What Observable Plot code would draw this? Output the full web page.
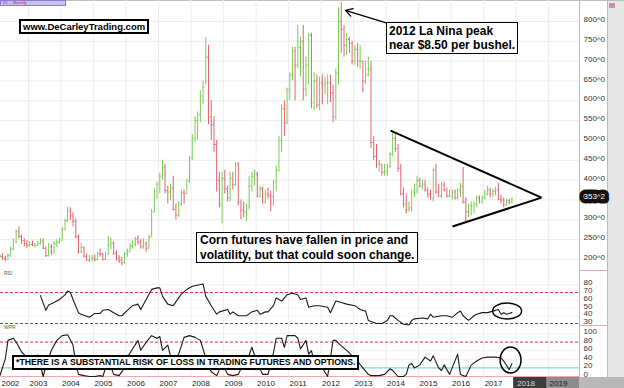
<!DOCTYPE html>
<html><head><meta charset="utf-8">
<script src="https://cdn.jsdelivr.net/npm/d3@7"></script>
<script src="https://cdn.jsdelivr.net/npm/@observablehq/plot@0.6"></script>
<style>
body{margin:0;background:#fff;font-family:"Liberation Sans",Arial,sans-serif;}
#chart{position:relative;width:624px;height:388px;overflow:hidden;background:#fff;}
.box{position:absolute;border:2px solid #000;background:#fff;font-weight:bold;color:#000;white-space:nowrap;box-sizing:border-box;}
.deco{position:absolute;}
</style></head><body><div id="chart"></div>
<script>
// ---------- DATA ----------
const firstYear = 2002; // monthly bars start Jan 2002
const highs = [
 215,212,215,208,215,232,252,275,282,262,252,248, // 2002
 245,246,240,245,252,252,232,240,238,245,250,254, // 2003
 282,302,332,330,318,302,262,240,232,214,210,210, // 2004
 212,218,226,215,218,258,254,244,222,210,205,218, // 2005
 226,240,246,256,260,250,252,244,262,326,378,395, // 2006
 418,450,440,385,390,410,340,345,375,375,402,460, // 2007
 515,560,572,625,650,760,740,600,560,500,420,420, // 2008
 425,385,420,420,445,445,350,345,340,410,420,425, // 2009
 420,385,382,375,380,372,400,435,510,590,600,632, // 2010
 670,735,735,790,760,790,710,770,770,670,665,660, // 2011
 665,660,665,665,640,680,835,848,790,770,760,750, // 2012
 740,745,740,700,700,710,700,510,490,450,440,440, // 2013
 440,470,518,515,490,440,380,365,345,375,390,410, // 2014
 405,400,400,380,375,430,440,390,395,395,380,375, // 2015
 375,375,380,392,432,355,340,345,345,360,360,360, // 2016
 375,385,380,378,382,392,362,355,352,352,356      // 2017
];
const lows = [
 200,202,198,195,198,205,222,240,252,238,232,228,
 230,232,228,232,236,225,205,206,210,213,230,238,
 246,272,292,298,282,252,214,214,204,196,192,194,
 194,196,206,196,198,210,224,210,196,190,184,188,
 206,216,226,232,236,226,226,218,226,256,318,352,
 365,400,365,340,348,322,300,306,335,340,365,392,
 450,495,500,545,590,640,540,500,470,370,330,290,
 365,345,345,375,385,335,300,305,295,325,370,385,
 355,355,340,340,352,320,335,370,420,470,510,540,
 600,650,600,680,660,600,610,640,580,575,580,575,
 590,615,590,595,545,550,640,720,710,715,720,690,
 690,685,680,620,640,660,480,450,430,420,410,410,
 410,430,460,470,420,360,330,315,320,320,355,365,
 380,375,370,355,350,345,365,355,355,370,355,355,
 350,350,350,355,340,295,305,310,315,330,340,340,
 350,360,355,356,360,348,340,330,335,338,340
];
const closes = [
 207,208,203,200,210,226,246,270,258,248,240,236,
 238,236,236,240,246,228,210,232,218,240,244,248,
 276,298,322,310,296,258,220,230,208,198,200,204,
 200,215,214,200,212,236,240,216,202,198,192,214,
 220,234,238,252,244,232,240,228,256,320,372,390,
 410,432,374,370,380,326,312,340,370,366,398,455,
 505,550,565,612,635,710,560,540,490,400,340,405,
 378,355,405,388,440,345,325,320,335,385,410,415,
 360,378,345,365,362,358,395,425,500,580,545,628,
 665,725,690,735,750,630,690,765,595,650,590,645,
 640,645,645,620,560,670,800,780,740,755,745,700,
 730,700,700,650,665,680,495,460,440,440,420,422,
 435,465,505,480,430,365,340,325,330,370,375,400,
 385,390,375,365,355,425,370,360,388,375,360,360,
 370,355,375,385,345,320,335,335,340,355,345,355,
 365,375,365,372,375,352,350,338,348,345,353
];
const lastPrice = 353;
const lastPriceLabel = "353^2";

const rsiMonths = [
 "2003-05","2003-07","2003-08","2003-10","2003-12",
 "2004-02","2004-03","2004-04","2004-05","2004-07","2004-08","2004-11",
 "2005-01","2005-03","2005-04","2005-06","2005-08","2005-10","2005-11",
 "2006-01","2006-03","2006-05","2006-06","2006-08","2006-10","2006-12",
 "2007-01","2007-02","2007-04","2007-06","2007-08","2007-09","2007-11",
 "2008-01","2008-05","2008-06","2008-08","2008-10","2008-11",
 "2009-02","2009-03","2009-04","2009-06","2009-09","2009-11",
 "2010-01","2010-02","2010-04","2010-05","2010-07","2010-08","2010-10","2010-12",
 "2011-02","2011-04","2011-05","2011-07","2011-08","2011-10","2011-12",
 "2012-03","2012-04","2012-06","2012-08","2012-10",
 "2013-01","2013-03","2013-05","2013-06","2013-09","2013-11",
 "2014-01","2014-02","2014-03","2014-05","2014-07","2014-09","2014-10","2014-11",
 "2015-02","2015-04","2015-05","2015-06","2015-09","2015-11",
 "2016-01","2016-03","2016-04","2016-05","2016-07","2016-09","2016-10","2016-12",
 "2017-02","2017-04","2017-06","2017-07","2017-08","2017-09","2017-11"
];
const rsiValues = [
 66,47,54,57,61,
 67,72,70,61,44,42,38,
 43,43,47,48,44,40,40,
 47,53,55,48,61,74,76,
 76,65,55,53,63,68,74,
 78,81,65,53,42,45,
 48,42,45,40,40,45,
 47,42,45,45,53,63,59,67,
 69,67,61,63,51,53,53,
 51,44,59,57,55,
 53,48,46,34,30,30,
 34,40,40,34,29,28,34,36,
 37,36,42,38,40,40,
 38,44,46,40,34,40,42,44,
 44,46,48,42,44,42,44
];

const wprMonths = [
 "2002-02","2002-04","2002-05","2002-07","2002-08","2002-10","2002-12",
 "2003-01","2003-03","2003-04","2003-06","2003-07","2003-09","2003-11",
 "2004-01","2004-03","2004-05","2004-06","2004-07","2004-09","2004-11",
 "2005-01","2005-03","2005-04","2005-06","2005-08","2005-10","2005-12",
 "2006-01","2006-03","2006-05","2006-06","2006-08","2006-10","2006-12",
 "2007-01","2007-02","2007-04","2007-05","2007-07","2007-08","2007-10","2007-12",
 "2008-02","2008-04","2008-06","2008-08","2008-10","2008-12",
 "2009-02","2009-04","2009-06","2009-08","2009-10","2009-11",
 "2010-01","2010-03","2010-05","2010-07","2010-08","2010-10","2010-11","2010-12",
 "2011-03","2011-04","2011-05","2011-07","2011-08","2011-09","2011-10","2011-12",
 "2012-03","2012-05","2012-06","2012-07","2012-09","2012-11","2012-12",
 "2013-02","2013-04","2013-06","2013-07","2013-10","2013-12",
 "2014-02","2014-03","2014-05","2014-07","2014-08","2014-09","2014-10","2014-11",
 "2015-01","2015-03","2015-05","2015-06","2015-08","2015-09","2015-10","2015-12",
 "2016-03","2016-04","2016-05","2016-06","2016-08","2016-10","2016-12",
 "2017-02","2017-05","2017-07","2017-08","2017-10","2017-11"
];
const wprValues = [
 3,41,84,89,80,57,45,
 30,40,50,0,25,61,84,
 95,97,73,30,5,2,0,
 0,2,0,40,5,2,20,
 45,64,84,61,80,95,89,
 93,61,73,48,43,52,91,95,
 91,84,43,11,2,30,
 5,2,5,30,50,68,
 30,5,5,55,89,89,68,95,
 95,89,64,84,52,60,35,30,
 0,84,84,77,66,55,48,
 35,20,5,2,2,5,
 18,14,0,0,5,27,30,20,
 27,45,36,48,20,14,27,5,
 52,5,2,0,27,36,43,
 45,45,43,36,16,30
];

const priceGrid = [200,250,300,350,400,450,500,550,600,650,700,750,800];
const priceLabels = [200,250,300,400,450,500,550,600,650,700,750,800];
const rsiTicks = [30,40,50,60,70,80];
const rsiLevels = {upper:70, lower:30};
const wprTicks = [0,20,40,60,80,100];
const wprLevels = {upper:80, lower:20, zero:0};
const years = [2003,2004,2005,2006,2007,2008,2009,2010,2011,2012,2013,2014,2015,2016,2017,2018,2019];
const firstLabelYear = 2002;

// annotations (data coordinates)
const triangle = [
 {x1:"2014-02-20", y1:525, x2:"2018-10-13", y2:356},
 {x1:"2016-01-17", y1:283, x2:"2018-10-13", y2:356}
];
const callout = [{x1:"2014-01-20", y1:795, x2:"2012-10-01", y2:828}];
const rsiCircle = {date:"2017-09-27", value:45.5};
const wprCircle = {date:"2017-11-05", value:37.2};

// ---------- BUILD ----------
const GREEN="#78cc55", RED="#e3616d";
const DAY = 864e5;
const ym = s => new Date(Date.UTC(+s.slice(0,4), +s.slice(5,7)-1, 15));
const iso = s => new Date(s + "T00:00:00Z");
const bars = closes.map((c,i)=>({
  date:new Date(Date.UTC(firstYear, i, 15)),
  high:highs[i], low:lows[i], close:c,
  open: i ? closes[i-1] : c,
  color: (i===0 || c>=closes[i-1]) ? GREEN : RED
}));
const rsiData = rsiMonths.map((m,i)=>({date:ym(m), value:rsiValues[i]}));
const wprData = wprMonths.map((m,i)=>({date:ym(m), value:wprValues[i]}));
const yearDates = years.map(y=>new Date(Date.UTC(y,0,1)));
const X_DOMAIN = [iso("2002-02-20"), iso("2019-12-14")];
const tri = triangle.map(d=>({...d, x1:iso(d.x1), x2:iso(d.x2)}));
const call = callout.map(d=>({...d, x1:iso(d.x1), x2:iso(d.x2)}));

const W=624, MR=45;
const FONT="Liberation Sans, Arial, sans-serif";
const base = {
  width:W, marginLeft:0, marginRight:MR, marginTop:0,
  color:{type:"identity"},
  style:{fontFamily:FONT, fontSize:"8px", color:"#333", background:"transparent", overflow:"visible"}
};
const GRID="#ececec";

const price = Plot.plot({
  ...base, height:272, marginBottom:0,
  x:{type:"utc", domain:X_DOMAIN, axis:null},
  y:{domain:[167.2, 852.9], axis:null},
  marks:[
    Plot.ruleX(yearDates,{stroke:GRID}),
    Plot.ruleY(priceGrid,{stroke:GRID}),
    Plot.ruleX(bars,{x:"date", y1:"low", y2:"high", stroke:"color", strokeWidth:1}),
    Plot.ruleY(bars,{y:"open", x1:d=>new Date(+d.date-11*DAY), x2:"date", stroke:"color", strokeWidth:1}),
    Plot.ruleY(bars,{y:"close", x1:"date", x2:d=>new Date(+d.date+11*DAY), stroke:"color", strokeWidth:1}),
    Plot.link(tri,{x1:"x1", y1:"y1", x2:"x2", y2:"y2", stroke:"#000", strokeWidth:2}),
    Plot.arrow(call,{x1:"x1", y1:"y1", x2:"x2", y2:"y2", stroke:"#000", strokeWidth:1.3, headLength:9}),
    Plot.axisY({anchor:"right", label:null, ticks:priceLabels, tickFormat:d=>d+"^0", tickSize:0, tickPadding:4, dy:-2, fill:"#333"}),
    Plot.text([lastPrice],{x:X_DOMAIN[1], y:d=>d, text:()=>lastPriceLabel, dx:4, dy:-2, textAnchor:"start", fill:"#fff", stroke:"#111", strokeWidth:9, paintOrder:"stroke", fontSize:8, clip:false})
  ]
});

const rsi = Plot.plot({
  ...base, height:53, marginBottom:0,
  x:{type:"utc", domain:X_DOMAIN, axis:null},
  y:{domain:[27.42, 95.81], axis:null},
  marks:[
    Plot.ruleX(yearDates,{stroke:GRID}),
    Plot.ruleY(rsiTicks,{stroke:"#f1f1f1"}),
    Plot.ruleY([rsiLevels.upper],{stroke:"#e23a44", strokeDasharray:"3,2"}),
    Plot.ruleY([rsiLevels.lower],{stroke:"#3a5fb8", strokeDasharray:"3,2"}),
    Plot.line(rsiData,{x:"date", y:"value", stroke:"#1a1a1a", strokeWidth:1.1}),
    Plot.axisY({anchor:"right", label:null, ticks:rsiTicks, tickSize:0, tickPadding:4, dy:-2, fill:"#333"})
  ]
});

const yearLabels = [{date:X_DOMAIN[0], year:firstLabelYear}].concat(years.map((y,i)=>({date:yearDates[i], year:y})));
const wpr = Plot.plot({
  ...base, height:63, marginBottom:11,
  x:{type:"utc", domain:X_DOMAIN, axis:null},
  y:{domain:[-2.326, 118.6], axis:null},
  marks:[
    Plot.ruleX(yearDates,{stroke:GRID}),
    Plot.ruleY(wprTicks,{stroke:"#f1f1f1"}),
    Plot.ruleY([wprLevels.upper],{stroke:"#e23a44", strokeDasharray:"3,2"}),
    Plot.ruleY([wprLevels.lower],{stroke:"#86d8e2", strokeWidth:1.2}),
    Plot.ruleY([wprLevels.zero],{stroke:"#f2a6ae", strokeWidth:1.2}),
    Plot.line(wprData,{x:"date", y:"value", stroke:"#1a1a1a", strokeWidth:1.1}),
    Plot.axisY({anchor:"right", label:null, ticks:wprTicks, tickSize:0, tickPadding:4, dy:-2, fill:"#333"}),
    Plot.text(yearLabels,{x:"date", text:d=>String(d.year), frameAnchor:"bottom", dy:6, lineAnchor:"middle", textAnchor:"start", dx:1, fontSize:8, fill:d=>d.year===2018?"#d8d8d8":"#222"})
  ]
});

// future (2018-2019) band behind the date labels
{
  const sx = wpr.scale("x");
  const svg = d3.select(wpr);
  const a = sx.apply(iso("2017-12-05")), b = sx.apply(iso("2018-12-10")), e = W-MR;
  const g = svg.insert("g","g[aria-label='text']");
  g.append("rect").attr("x",a).attr("y",52).attr("width",e-a).attr("height",11).attr("fill","#8d8d8d");
  g.append("rect").attr("x",a).attr("y",52).attr("width",b-a).attr("height",11).attr("fill","#3d3d3d");
}
// circles around the latest indicator readings
function ring(plot, note, rx, ry){
  const x = plot.scale("x").apply(iso(note.date)), y = plot.scale("y").apply(note.value);
  d3.select(plot).append("ellipse").attr("cx",x).attr("cy",y).attr("rx",rx).attr("ry",ry)
    .attr("fill","none").attr("stroke","#000").attr("stroke-width",1.4);
}
ring(rsi, rsiCircle, 14.5, 8);
ring(wpr, wprCircle, 10.5, 13);

// ---------- ASSEMBLE ----------
const root = document.getElementById("chart");
function deco(css){ const d=document.createElement("div"); d.className="deco"; Object.assign(d.style, css); root.appendChild(d); return d; }
// right-hand column
deco({left:"607px", top:"0px", width:"17px", height:"388px", background:"#e6e6e6", borderLeft:"1px solid #e2a9b0"});
deco({left:"579px", top:"0px", width:"1px", height:"377px", background:"#e2a9b0"});
deco({left:"579px", top:"270px", width:"28px", height:"1px", background:"#e2a9b0"});
deco({left:"579px", top:"325px", width:"28px", height:"1px", background:"#e2a9b0"});
deco({left:"579px", top:"377px", width:"45px", height:"11px", background:"#b9b9b9"});
deco({left:"609px", top:"3px", width:"6px", height:"5px", background:"#c58fb0"});
deco({left:"0px", top:"0px", width:"624px", height:"1px", background:"#bdbdbd"});

function place(svg, top){ svg.style.position="absolute"; svg.style.left="0px"; svg.style.top=top+"px"; root.appendChild(svg); }
place(price, 0);
place(rsi, 272);
place(wpr, 325);

// panel labels and header tab
const tab = deco({left:"0px", top:"0px", width:"66px", height:"6px", background:"#c9c0ee", border:"1px solid #8a7cc8", boxSizing:"border-box", fontSize:"4px", color:"#c02030", lineHeight:"4px", paddingLeft:"2px", fontFamily:FONT});
tab.textContent = "ZC – Monthly";
const l1 = deco({left:"4px", top:"270px", fontSize:"5px", color:"#555", fontFamily:FONT}); l1.textContent="RSI";
const l2 = deco({left:"4px", top:"324px", fontSize:"5px", color:"#555", fontFamily:FONT}); l2.textContent="WPR";

// text boxes
function box(text, css){ const d=document.createElement("div"); d.className="box"; d.innerHTML=text; Object.assign(d.style, css); root.appendChild(d); return d; }
box("www.DeCarleyTrading.com", {left:"19px", top:"19px", fontSize:"9.5px", lineHeight:"11px", padding:"0 2px"});
box("2012 La Nina peak<br>near $8.50 per bushel.", {left:"386px", top:"22px", fontSize:"12px", lineHeight:"14px", padding:"1px 2px", borderWidth:"1.5px"});
box("Corn futures have fallen in price and<br>volatility, but that could soon change.", {left:"196px", top:"232px", fontSize:"12px", lineHeight:"14.5px", padding:"0 3px", borderWidth:"1.5px"});
box("*THERE IS A SUBSTANTIAL RISK OF LOSS IN TRADING FUTURES AND OPTIONS.", {left:"12px", top:"355px", fontSize:"8.7px", lineHeight:"11px", padding:"0 2px"});
</script></body></html>
